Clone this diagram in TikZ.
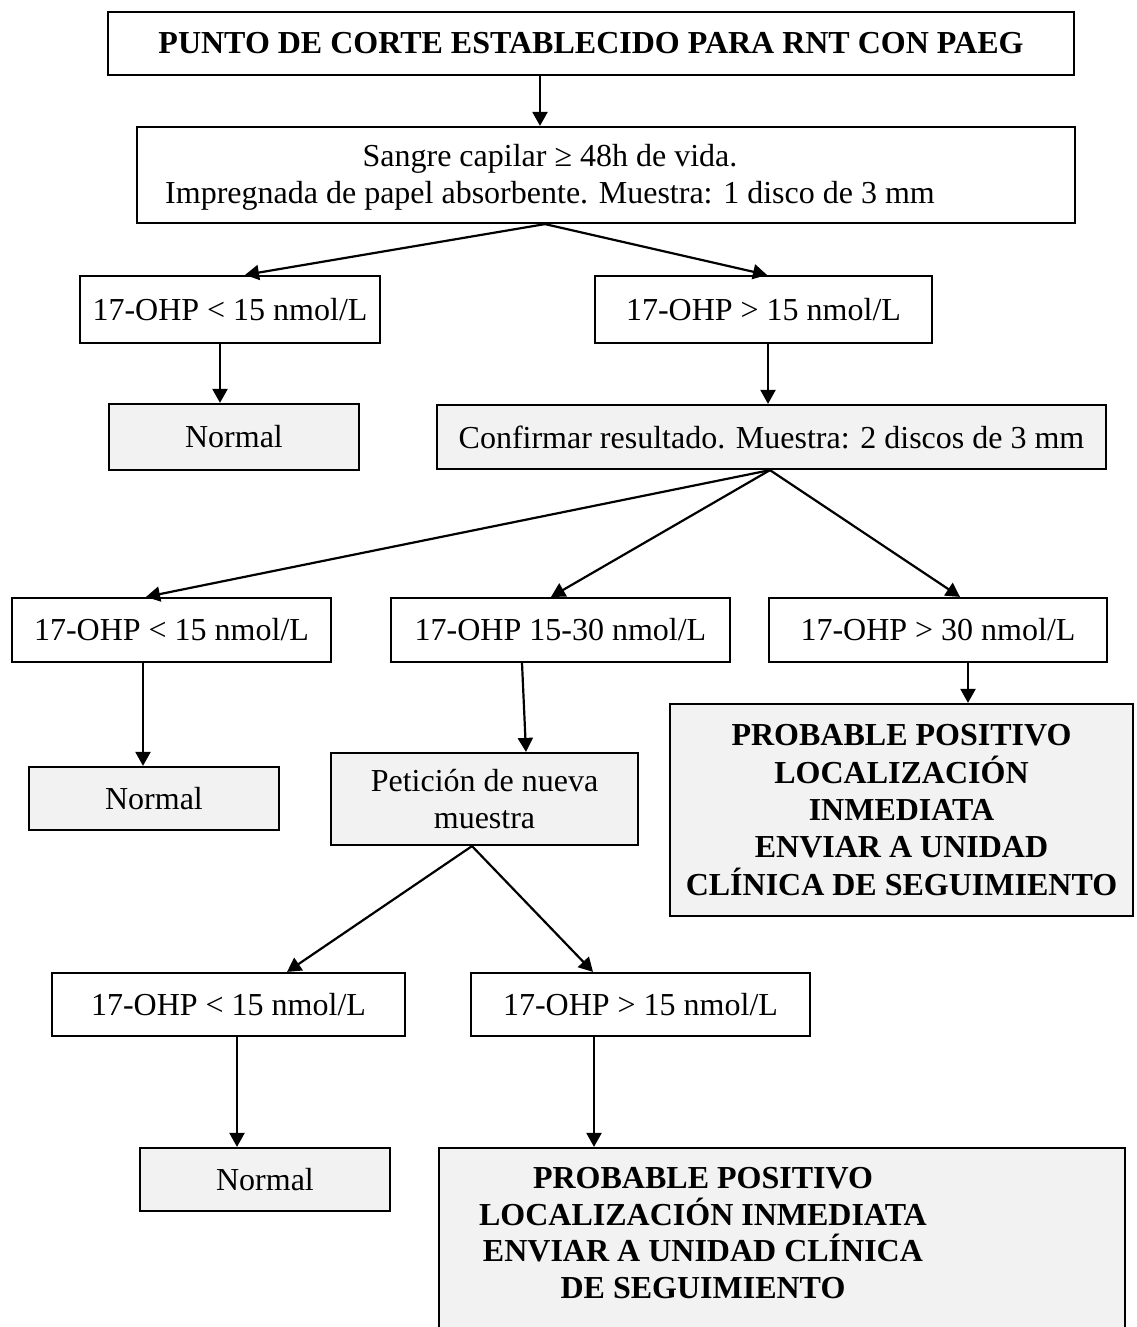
\documentclass[tikz,border=0pt]{standalone}
\usepackage{fontspec}
\setmainfont{Liberation Serif}
\usetikzlibrary{arrows.meta,calc}
\definecolor{boxgrey}{HTML}{F2F2F2}
\tikzset{
  box/.style={draw,line width=1.1pt,inner sep=0pt,align=center,
    font=\fontsize{16}{18.5}\selectfont},
  sz/.style 2 args={minimum width=#1*0.5pt,minimum height=#2*0.5pt},
  greybox/.style={box,fill=boxgrey},
  boldbox/.style={greybox,font=\fontsize{16}{18.7}\selectfont\bfseries},
  txt/.style={inner sep=0pt,align=center,font=\fontsize{16}{18.5}\selectfont},
  arr/.style={line width=1.1pt,-{Triangle[length=7pt,width=7.5pt]}}
}
\begin{document}
\begin{tikzpicture}[x=0.5pt,y=-0.5pt]
\useasboundingbox (0,0) rectangle (1136,1327);
\clip (0,0) rectangle (1136,1327);

% first screening
\node[box,sz={966}{63},font=\fontsize{16}{18.5}\selectfont\bfseries] (top) at (591,43.5)
  {PUNTO DE CORTE ESTABLECIDO PARA RNT CON PAEG};
\node[box,sz={938}{96}] (sample) at (606,175) {};
\node[txt] (sampletxt) at (550,177)
  {Sangre capilar ≥ 48h de vida.\\ Impregnada de papel absorbente. Muestra: 1 disco de 3 mm};
\node[box,sz={300}{67}] (lowA) at (230,309.5) {17-OHP < 15 nmol/L};
\node[box,sz={337}{67}] (highA) at (763.5,309.5) {17-OHP > 15 nmol/L};
\node[greybox,sz={250}{66}] (normA) at (234,437) {Normal};
\node[greybox,sz={669}{64}] (confirm) at (771.5,437) {Confirmar resultado. Muestra: 2 discos de 3 mm};

% confirmation
\node[box,sz={319}{64}] (lowB) at (171.5,630) {17-OHP < 15 nmol/L};
\node[box,sz={339}{64}] (midB) at (560.5,630) {17-OHP 15-30 nmol/L};
\node[box,sz={338}{64}] (highB) at (938,630) {17-OHP > 30 nmol/L};
\node[greybox,sz={250}{63}] (normB) at (154,798.5) {Normal};
\node[greybox,sz={307}{92}] (repeat) at (484.5,799) {Petición de nueva\\muestra};
\node[boldbox,sz={463}{212}] (posA) at (901.5,810)
  {PROBABLE POSITIVO\\LOCALIZACIÓN\\INMEDIATA\\ENVIAR A UNIDAD\\CLÍNICA DE SEGUIMIENTO};

% new sample
\node[box,sz={353}{63}] (lowC) at (228.5,1004.5) {17-OHP < 15 nmol/L};
\node[box,sz={339}{63}] (highC) at (640.5,1004.5) {17-OHP > 15 nmol/L};
\node[greybox,sz={250}{63}] (normC) at (265,1179.5) {Normal};
\node[greybox,sz={686}{192}] (posB) at (782,1244) {};
\node[txt,font=\fontsize{16}{18.4}\selectfont\bfseries] (posBtxt) at (703,1233)
  {PROBABLE POSITIVO\\LOCALIZACIÓN INMEDIATA\\ENVIAR A UNIDAD CLÍNICA\\DE SEGUIMIENTO};

% connectors
\draw[arr] ($(top.south)+(-51,0)$) -- ($(sample.north)+(-66,0)$);
\draw[arr] ($(sample.south)+(-61,0)$) -- ($(lowA.north)+(15,0)$);
\draw[arr] ($(sample.south)+(-61,0)$) -- ($(highA.north)+(3.5,0)$);
\draw[arr] ($(lowA.south)+(-10,0)$) -- ($(normA.north)+(-14,0)$);
\draw[arr] ($(highA.south)+(4.5,0)$) -- ($(confirm.north)+(-3.5,0)$);
\draw[arr] ($(confirm.south)+(-1.5,0)$) -- ($(lowB.north)+(-25.5,0)$);
\draw[arr] ($(confirm.south)+(-1.5,0)$) -- ($(midB.north)+(-9.5,0)$);
\draw[arr] ($(confirm.south)+(-1.5,0)$) -- ($(highB.north)+(22,0)$);
\draw[arr] ($(lowB.south)+(-28.5,0)$) -- ($(normB.north)+(-11,0)$);
\draw[arr] ($(midB.south)+(-38.5,0)$) -- ($(repeat.north)+(41.5,0)$);
\draw[arr] ($(highB.south)+(30,0)$) -- ($(posA.north)+(66.5,0)$);
\draw[arr] ($(repeat.south)+(-12.5,0)$) -- ($(lowC.north)+(58.5,0)$);
\draw[arr] ($(repeat.south)+(-12.5,0)$) -- ($(highC.north)+(-47.5,0)$);
\draw[arr] ($(lowC.south)+(8.5,0)$) -- ($(normC.north)+(-28,0)$);
\draw[arr] ($(highC.south)+(-46.5,0)$) -- ($(posB.north)+(-188,0)$);
\end{tikzpicture}
\end{document}
